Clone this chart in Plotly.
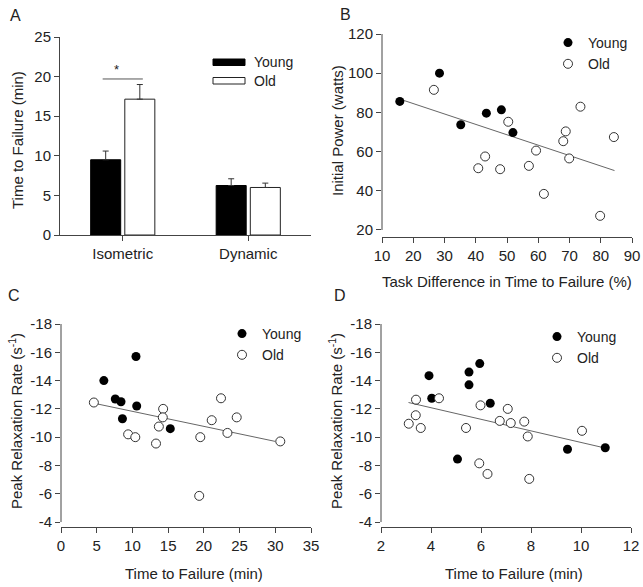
import plotly.graph_objects as go
from plotly.subplots import make_subplots

W, H = 643, 587

# DATA -----------------------------------------------------------------------
tasks = ['Isometric', 'Dynamic']
young_ttf = [9.5, 6.25]
young_ttf_err = [1.1, 0.85]
old_ttf = [17.15, 6.0]
old_ttf_err = [1.85, 0.55]

# B: initial power vs task difference in time to failure
b_young_x = [15.7, 28.4, 35.2, 43.4, 48.2, 51.9]
b_young_y = [85.6, 100.0, 73.7, 79.6, 81.3, 69.7]
b_old_x = [26.6, 40.8, 43.0, 47.8, 50.4, 57.0, 59.3, 61.8, 68.0, 68.8, 69.9, 73.5, 79.8, 84.2]
b_old_y = [91.5, 51.5, 57.5, 51.0, 75.2, 52.7, 60.5, 38.4, 65.3, 70.3, 56.5, 82.9, 27.2, 67.4]
b_fit_x = [16.4, 84.4]
b_fit_y = [86.4, 50.3]

# C: peak relaxation rate vs isometric time to failure
c_young_x = [6.0, 7.6, 8.4, 8.6, 10.5, 10.6, 15.3]
c_young_y = [-14.0, -12.7, -12.5, -11.3, -15.7, -12.2, -10.6]
c_old_x = [4.6, 9.4, 10.4, 13.3, 13.7, 14.3, 14.25, 19.5, 19.35, 21.1, 22.4, 23.3, 24.6, 30.7]
c_old_y = [-12.45, -10.2, -10.0, -9.55, -10.75, -12.0, -11.4, -10.0, -5.85, -11.2, -12.75, -10.3, -11.4, -9.7]
c_fit_x = [4.6, 30.0]
c_fit_y = [-12.4, -9.7]

# D: peak relaxation rate vs dynamic time to failure
d_young_x = [3.92, 4.03, 5.52, 5.52, 5.95, 6.37, 5.06, 9.46, 10.97]
d_young_y = [-14.35, -12.75, -14.6, -13.7, -15.2, -12.4, -8.45, -9.15, -9.25]
d_old_x = [3.11, 3.4, 3.39, 3.59, 4.32, 5.4, 5.98, 5.93, 6.26, 6.75, 7.07, 7.19, 7.73, 7.87, 7.93, 10.04]
d_old_y = [-10.95, -12.65, -11.55, -10.65, -12.75, -10.65, -12.25, -8.15, -7.4, -11.15, -12.0, -11.0, -11.1, -10.05, -7.05, -10.45]
d_fit_x = [3.1, 10.97]
d_fit_y = [-12.45, -9.23]

rate_ticks = [-18, -16, -14, -12, -10, -8, -6, -4]
rate_labels = [str(v) for v in rate_ticks]


# FIGURE ---------------------------------------------------------------------
def px(x):
    return x / W


def py(y):
    return 1 - y / H


FONT = 'Liberation Sans, Arial, sans-serif'
INK = '#222'
AX = '#444'

fig = make_subplots(rows=2, cols=2)

# A: bars
fig.add_trace(go.Bar(x=tasks, y=young_ttf, name='Young', showlegend=False,
                     marker=dict(color='black', line=dict(color='black', width=1)),
                     error_y=dict(type='data', array=young_ttf_err, arrayminus=[0, 0], symmetric=False,
                                  color='#333', thickness=1, width=3)),
              row=1, col=1)
fig.add_trace(go.Bar(x=tasks, y=old_ttf, name='Old', showlegend=False,
                     marker=dict(color='white', line=dict(color='#222', width=1)),
                     error_y=dict(type='data', array=old_ttf_err, arrayminus=[0, 0], symmetric=False,
                                  color='#333', thickness=1, width=3)),
              row=1, col=1)

young_mk = dict(color='black', size=9, line=dict(width=0))
old_mk = dict(color='white', size=9, line=dict(color='#333', width=1))
fit_ln = dict(color='#666', width=1)

panels = [
    (1, 2, 'legend2', b_young_x, b_young_y, b_old_x, b_old_y, b_fit_x, b_fit_y),
    (2, 1, 'legend3', c_young_x, c_young_y, c_old_x, c_old_y, c_fit_x, c_fit_y),
    (2, 2, 'legend4', d_young_x, d_young_y, d_old_x, d_old_y, d_fit_x, d_fit_y),
]
for r, c, lg, yx, yy, ox, oy, fx, fy in panels:
    fig.add_trace(go.Scatter(x=fx, y=fy, mode='lines', line=fit_ln, showlegend=False, hoverinfo='skip'),
                  row=r, col=c)
    fig.add_trace(go.Scatter(x=yx, y=yy, mode='markers', marker=young_mk, name='Young', legend=lg),
                  row=r, col=c)
    fig.add_trace(go.Scatter(x=ox, y=oy, mode='markers', marker=old_mk, name='Old', legend=lg),
                  row=r, col=c)

axis_style = dict(showline=True, linecolor=AX, linewidth=1, ticks='outside', ticklen=5, tickcolor=AX,
                  showgrid=False, zeroline=False, automargin=False,
                  tickfont=dict(family=FONT, size=15, color=INK))

# domains in pixels: (left, right, top, bottom)
fig.update_layout(
    xaxis=dict(axis_style, domain=[px(60), px(311)], range=[-0.5, 1.5]),
    yaxis=dict(axis_style, domain=[py(235), py(37)], range=[0, 25], dtick=5),
    xaxis2=dict(axis_style, domain=[px(382), px(632)], range=[10, 90], dtick=10),
    yaxis2=dict(axis_style, domain=[py(237), py(34)], range=[16.4, 120], tickvals=[20, 40, 60, 80, 100, 120],
                showline=False),
    xaxis3=dict(axis_style, domain=[px(61), px(311)], range=[0, 35], dtick=5),
    yaxis3=dict(axis_style, domain=[py(527), py(324)], range=[-3.65, -18], tickvals=rate_ticks,
                ticktext=rate_labels, showline=False),
    xaxis4=dict(axis_style, domain=[px(381), px(631)], range=[2, 12], dtick=2),
    yaxis4=dict(axis_style, domain=[py(527), py(324)], range=[-3.65, -18], tickvals=rate_ticks,
                ticktext=rate_labels, showline=False),
)

# y axis lines that stop at the last tick (offset from the x axis)
for yref, xref, y0, y1 in [('y2', 'x2', 20, 120), ('y3', 'x3', -4, -18), ('y4', 'x4', -4, -18)]:
    fig.add_shape(type='line', xref=xref + ' domain', yref=yref, x0=0, x1=0, y0=y0, y1=y1,
                  line=dict(color=AX, width=1))

# significance bar on panel A
fig.add_shape(type='line', xref='x', yref='y', x0=-0.16, x1=0.16, y0=19.7, y1=19.7,
              line=dict(color='#555', width=1))
fig.add_annotation(x=-0.05, y=20.9, xref='x', yref='y', text='*', showarrow=False,
                   font=dict(family=FONT, size=13, color=INK))

# panel A legend (wide bar swatches)
fig.add_shape(type='rect', xref='paper', yref='paper', x0=px(213), x1=px(245), y0=py(65.5), y1=py(59),
              fillcolor='black', line=dict(color='black', width=1))
fig.add_shape(type='rect', xref='paper', yref='paper', x0=px(213), x1=px(245), y0=py(84), y1=py(77.5),
              fillcolor='white', line=dict(color='#222', width=1))
for label, yy in [('Young', 62), ('Old', 81)]:
    fig.add_annotation(x=px(252), y=py(yy), xref='paper', yref='paper', text=label, showarrow=False,
                       xanchor='left', yanchor='middle', font=dict(family=FONT, size=14, color=INK))

legend_style = dict(bgcolor='rgba(0,0,0,0)', font=dict(family=FONT, size=14, color=INK),
                    xanchor='left', yanchor='top', itemwidth=30, tracegroupgap=0)
fig.update_layout(
    legend2=dict(legend_style, x=px(548), y=py(27)),
    legend3=dict(legend_style, x=px(222), y=py(318)),
    legend4=dict(legend_style, x=px(537), y=py(321)),
)

# axis titles
titles = [
    ('Time to Failure (min)', 18, 140, -90),
    ('Initial Power (watts)', 337, 131, -90),
    ('Task Difference in Time to Failure (%)', 507, 282, 0),
    ('Peak Relaxation Rate (s<sup>-1</sup>)', 15, 421, -90),
    ('Time to Failure (min)', 194, 573, 0),
    ('Peak Relaxation Rate (s<sup>-1</sup>)', 335, 421, -90),
    ('Time to Failure (min)', 514, 573, 0),
]
for text, x, y, ang in titles:
    fig.add_annotation(x=px(x), y=py(y), xref='paper', yref='paper', text=text, showarrow=False,
                       textangle=ang, xanchor='center', yanchor='middle',
                       font=dict(family=FONT, size=15, color=INK))

# panel letters
for letter, x, y in [('A', 15, 15), ('B', 346, 14), ('C', 14, 296), ('D', 340, 296)]:
    fig.add_annotation(x=px(x), y=py(y), xref='paper', yref='paper', text=letter, showarrow=False,
                       xanchor='center', yanchor='middle', font=dict(family=FONT, size=16, color=INK))

fig.update_layout(
    width=W, height=H,
    margin=dict(l=0, r=0, t=0, b=0),
    paper_bgcolor='white', plot_bgcolor='white',
    barmode='group', bargap=0.456, bargroupgap=0.12,
    font=dict(family=FONT, color=INK),
)

# the page body has a default 8px margin; drop it so the figure fills the window
fig.write_html("out.html", config={'displayModeBar': False},
               post_script="document.body.style.margin='0px';")
